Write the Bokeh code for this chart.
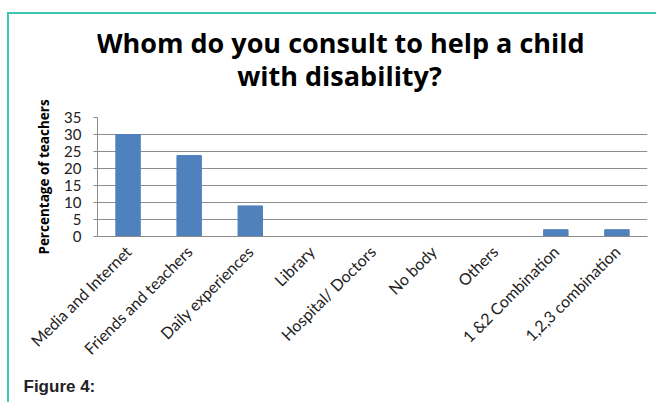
import math
from bokeh.plotting import figure
from bokeh.layouts import column
from bokeh.models import ColumnDataSource, FixedTicker, Range1d, Title
from bokeh.core.properties import value
from bokeh.embed import file_html
from bokeh.resources import INLINE

categories = ["Media and Internet", "Friends and teachers", "Daily experiences", "Library",
              "Hospital/ Doctors", "No body", "Others", "1 &2 Combination", "1,2,3 combination"]
values = [30, 23.8, 9, 0, 0, 0, 0, 2, 2]
y_ticks = [0, 5, 10, 15, 20, 25, 30, 35]
title_lines = ["Whom do you consult to help a child", "with disability?"]
y_label = "Percentage of teachers"
caption = "Figure 4:"

# ---- title strip ----
tf = figure(width=647, height=80, x_range=Range1d(97, 647), y_range=Range1d(94, 14),
            output_backend="svg", toolbar_location=None,
            min_border_left=88, min_border_right=9, min_border_top=0, min_border_bottom=0)
tf.axis.visible = False
tf.grid.visible = False
tf.outline_line_color = None
tf.background_fill_color = "white"
tf.border_fill_color = "white"
tsrc = ColumnDataSource(dict(x=[340, 339], y=[42, 75], t=title_lines))
tf.text(x="x", y="y", text="t", source=tsrc, text_align="center", text_baseline="alphabetic",
        text_font=value("Open Sans"), text_font_style="bold", text_font_size="27px",
        text_color="#000000")

# ---- chart ----
src = ColumnDataSource(dict(cat=categories, val=values))

p = figure(width=647, height=308, x_range=categories, y_range=Range1d(0, 35),
           output_backend="svg", toolbar_location=None,
           min_border_left=88, min_border_right=9, min_border_top=23, min_border_bottom=165)
p.outline_line_color = None
p.background_fill_color = "white"
p.border_fill_color = "white"

p.vbar(x="cat", top="val", width=0.4, source=src, fill_color="#4F81BD", line_color="#4F81BD")

p.xgrid.grid_line_color = None
p.ygrid.grid_line_color = "#8c8c8c"
p.ygrid.grid_line_width = 1
p.yaxis.ticker = FixedTicker(ticks=y_ticks)
p.yaxis.axis_line_color = "#8c8c8c"
p.yaxis.major_tick_line_color = "#8c8c8c"
p.yaxis.major_tick_out = 4
p.yaxis.major_tick_in = 0
p.yaxis.minor_tick_line_color = None
p.yaxis.major_label_standoff = 12
p.yaxis.major_label_text_font = "Lato"
p.yaxis.major_label_text_font_size = "15px"
p.yaxis.major_label_text_color = "#222222"
p.yaxis.axis_label = y_label
p.yaxis.axis_label_text_font = "Open Sans"
p.yaxis.axis_label_text_font_style = "bold"
p.yaxis.axis_label_text_font_size = "13.5px"
p.yaxis.axis_label_text_color = "#000000"
p.yaxis.axis_label_standoff = 8

p.xaxis.axis_line_color = "#8c8c8c"
p.xaxis.major_tick_line_color = None
p.xaxis.major_label_orientation = math.pi / 4
p.xaxis.major_label_standoff = 6
p.xaxis.major_label_text_font = "Lato"
p.xaxis.major_label_text_font_size = "16px"
p.xaxis.major_label_text_color = "#222222"
p.x_range.range_padding = 0

p.add_layout(Title(text=caption, align="left", offset=-74, text_font="Liberation Sans",
                   text_font_style="bold", text_font_size="17px", text_color="#222222",
                   standoff=14), "below")

layout = column(tf, p, spacing=0)
layout.styles = {"margin-left": "7px", "margin-top": "12px",
                 "border-left": "2px solid #3cc8b4", "border-top": "2px solid #3cc8b4"}

open("out.html", "w").write(file_html(layout, INLINE))
